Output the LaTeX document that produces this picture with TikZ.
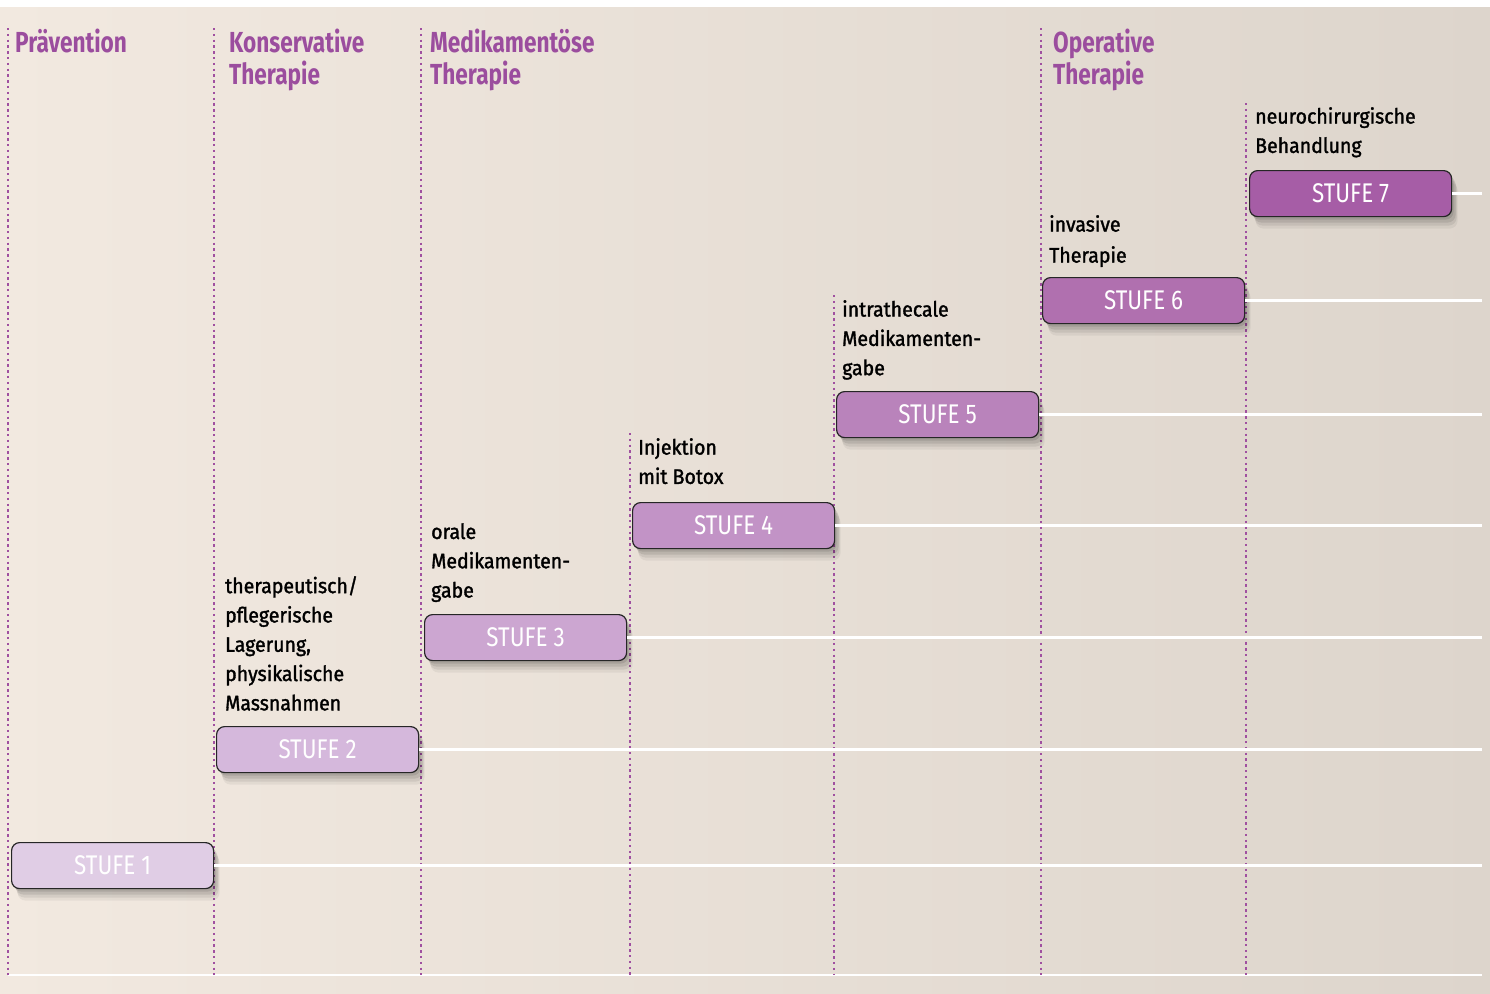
\documentclass[tikz,border=0pt]{standalone}
\usepackage{fontspec}
\setmainfont{Fira Sans}[FakeStretch=0.93, FakeBold=1.5]
\newfontfamily\headfont{Fira Sans}[FakeStretch=0.78]
\newfontfamily\stufefont{Fira Sans}[FakeStretch=0.83]
\usetikzlibrary{shadows}
\definecolor{bgL}{RGB}{242,233,224}
\definecolor{bgR}{RGB}{221,213,204}
\definecolor{headc}{RGB}{155,77,158}
\definecolor{dotc}{RGB}{160,80,160}
\definecolor{sA}{HTML}{E0CDE5}
\definecolor{sB}{HTML}{D5B8DC}
\definecolor{sC}{HTML}{CCA6D1}
\definecolor{sD}{HTML}{C293C6}
\definecolor{sE}{HTML}{B983BB}
\definecolor{sF}{HTML}{B070AF}
\definecolor{sG}{HTML}{A65DA6}
\tikzset{
  stufebox/.style={draw=black!85, line width=1.2pt, rounded corners=8pt,
    minimum width=202pt, minimum height=46pt, anchor=north west, inner sep=0pt,
    text=white, font=\stufefont\fontsize{27}{27}\selectfont,
    general shadow={fill=black, opacity=0.05, shadow xshift=6pt, shadow yshift=-12pt},
    general shadow={fill=black, opacity=0.07, shadow xshift=5pt, shadow yshift=-9pt},
    general shadow={fill=black, opacity=0.09, shadow xshift=4pt, shadow yshift=-6pt},
    general shadow={fill=black, opacity=0.10, shadow xshift=2pt, shadow yshift=-3pt}},
  colhead/.style={anchor=north west, inner sep=0pt, align=left, text=headc,
    font=\headfont\bfseries\fontsize{29}{32}\selectfont},
  desc/.style={anchor=north west, inner sep=0pt, align=left, text=black,
    font=\fontsize{21}{29.3}\selectfont},
  colline/.style={dotc, line width=2.4pt, dash pattern=on 2.4pt off 3.4pt},
  hline/.style={white, line width=2.6pt}
}
\begin{document}
\begin{tikzpicture}[x=1pt,y=-1pt]
\useasboundingbox (0,0) rectangle (1490,993);
\fill[white] (0,0) rectangle (1490,993);
\shade[left color=bgL, right color=bgR] (0,7) rectangle (1490,993);
% coordinates
\coordinate (bl) at (8,975);
\coordinate (br) at (1482,975);
\coordinate (re) at (1482,0);
\foreach \n/\x/\t in {c0/8/28, c1/214/28, c2/421/28, c3/630/433, c4/834/295, c5/1041/28, c6/1246/103}{
  \coordinate (\n top) at (\x,\t);
  \coordinate (\n bot) at (\x,975);
}
% bottom line
\draw[hline] (bl) -- (br);
% dotted column lines
\foreach \n in {c0,c1,c2,c3,c4,c5,c6}{
  \draw[colline] (\n top) -- (\n bot);
}
% boxes
\node[stufebox, fill=sA] (s1) at (11,842) {STUFE 1};
\node[stufebox, fill=sB] (s2) at (216,726) {STUFE 2};
\node[stufebox, fill=sC] (s3) at (424,614) {STUFE 3};
\node[stufebox, fill=sD] (s4) at (632,502) {STUFE 4};
\node[stufebox, fill=sE] (s5) at (836,391) {STUFE 5};
\node[stufebox, fill=sF] (s6) at (1042,277) {STUFE 6};
\node[stufebox, fill=sG] (s7) at (1249,170) {STUFE 7};
% horizontal white lines
\foreach \s in {s1,s2,s3,s4,s5,s6,s7}{
  \draw[hline] (\s.east) -- (\s.east -| re);
}
% headings
\node[colhead] (h1) at (15,29) {Prävention};
\node[colhead] (h2) at (229,29) {Konservative\\Therapie};
\node[colhead] (h3) at (430,29) {Medikamentöse\\Therapie};
\node[colhead] (h4) at (1053,29) {Operative\\Therapie};
% descriptions
\node[desc] (d2) at (225,576) {therapeutisch/\\pflegerische\\Lagerung,\\physikalische\\Massnahmen};
\node[desc] (d3) at (431,523) {orale\\Medikamenten-\\gabe};
\node[desc] (d4) at (638,438) {Injektion\\mit Botox};
\node[desc, font=\fontsize{21}{31}\selectfont] (d6) at (1049,215) {invasive\\Therapie};
\node[desc] (d5) at (842,300) {intrathecale\\Medikamenten-\\gabe};
\node[desc] (d7) at (1255,107) {neurochirurgische\\Behandlung};
\end{tikzpicture}
\end{document}
